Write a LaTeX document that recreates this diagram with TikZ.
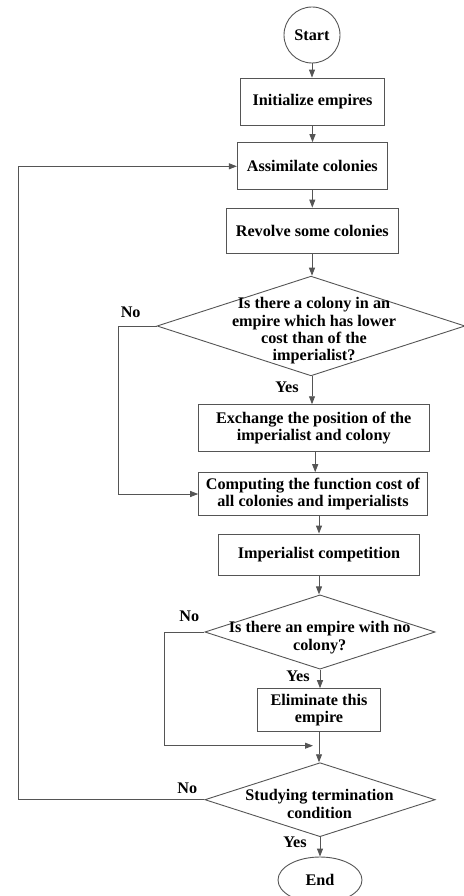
\documentclass[tikz,border=0pt]{standalone}
\usepackage{fontspec}
\setmainfont{Liberation Serif}
\usetikzlibrary{shapes.geometric,arrows.meta,calc}
\definecolor{linegray}{HTML}{555555}
\begin{document}
\begin{tikzpicture}[x=1pt,y=-1pt,
  every node/.style={font=\fontsize{16.2}{17.4}\selectfont\bfseries, text=black},
  proc/.style={draw=linegray, line width=0.9pt, inner sep=0pt, align=center},
  dec/.style={diamond, draw=linegray, line width=0.9pt, inner sep=0pt},
  dectext/.style={align=center, inner sep=0pt},
  lbl/.style={inner sep=0pt},
  arr/.style={draw=linegray, line width=0.9pt, -{Triangle[length=8pt,width=6pt]}}
]
\useasboundingbox (0,0) rectangle (463,896);

\node[proc, circle, minimum size=56pt] (start) at (312,35) {Start};
\node[proc, minimum width=143.6pt, minimum height=47.3pt] (init) at (312.5,101.7) {Initialize empires};
\node[proc, minimum width=150pt, minimum height=47.3pt] (assim) at (312.3,166.3) {Assimilate colonies};
\node[proc, minimum width=172.7pt, minimum height=45.3pt] (revolve) at (312.3,230.7) {Revolve some colonies};

\node[dec, minimum width=308pt, minimum height=99.7pt] (d1) at (311,326) {};
\node[dectext] (d1t) at (314,331) {Is there a colony in an\\empire which has lower\\cost than of the\\imperialist?};

\node[proc, minimum width=231.3pt, minimum height=47pt] (exch) at (313.7,428.2) {Exchange the position of the\\imperialist and colony};
\node[proc, minimum width=228.7pt, minimum height=42.7pt] (comp) at (313,494) {Computing the function cost of\\all colonies and imperialists};
\node[proc, minimum width=200.7pt, minimum height=41pt] (imp) at (319,554.5) {Imperialist competition};

\node[dec, minimum width=230.3pt, minimum height=74.3pt] (d2) at (320,632) {};
\node[dectext] (d2t) at (319.7,637.5) {Is there an empire with no\\colony?};

\node[proc, minimum width=123.3pt, minimum height=42.7pt] (elim) at (319,710) {Eliminate this\\empire};

\node[dec, minimum width=230.3pt, minimum height=74pt] (d3) at (320,799.7) {};
\node[dectext] (d3t) at (319.5,804) {Studying termination\\condition};

\node[proc, ellipse, minimum width=84pt, minimum height=46pt] (end) at (320,880) {End};

% labels
\node[lbl] (no1) at (130.7,312) {No};
\node[lbl] (yes1) at (287,387.7) {Yes};
\node[lbl] (no2) at (189.3,616.7) {No};
\node[lbl] (yes2) at (298,676.7) {Yes};
\node[lbl] (no3) at (187.3,788.3) {No};
\node[lbl] (yes3) at (295,842.7) {Yes};

% main flow
\draw[arr] (start.south) -- (start.south |- init.north);
\draw[arr] (init.south) -- (init.south |- assim.north);
\draw[arr] (assim.south) -- (assim.south |- revolve.north);
\draw[arr] (revolve.south -| d1.north) ++(1,0) coordinate (r1) -- (r1 |- d1.north);
\draw[arr] (d1.south) ++(1,0) coordinate (s1) -- (s1 |- exch.north);
\draw[arr] (exch.south) ++(1.5,0) coordinate (s2) -- (s2 |- comp.north);
\draw[arr] (imp.north |- comp.south) -- (imp.north);
\draw[arr] (imp.south) -- (imp.south |- d2.north);
\draw[arr] (d2.south) -- (d2.south |- elim.north);
\draw[arr] (elim.south) -- (elim.south |- d3.north);
\draw[arr] (d3.south) -- (d3.south |- end.north);

% No branches
\draw[arr] (d1.west) -- (118.7,326) |- (comp.west);
\coordinate (j2) at (313,745.7);
\draw[arr] (d2.west) -- (164.3,632) |- (j2);
\draw[arr] (d3.west) -- (18.3,799.7) |- (assim.west);
\end{tikzpicture}
\end{document}
